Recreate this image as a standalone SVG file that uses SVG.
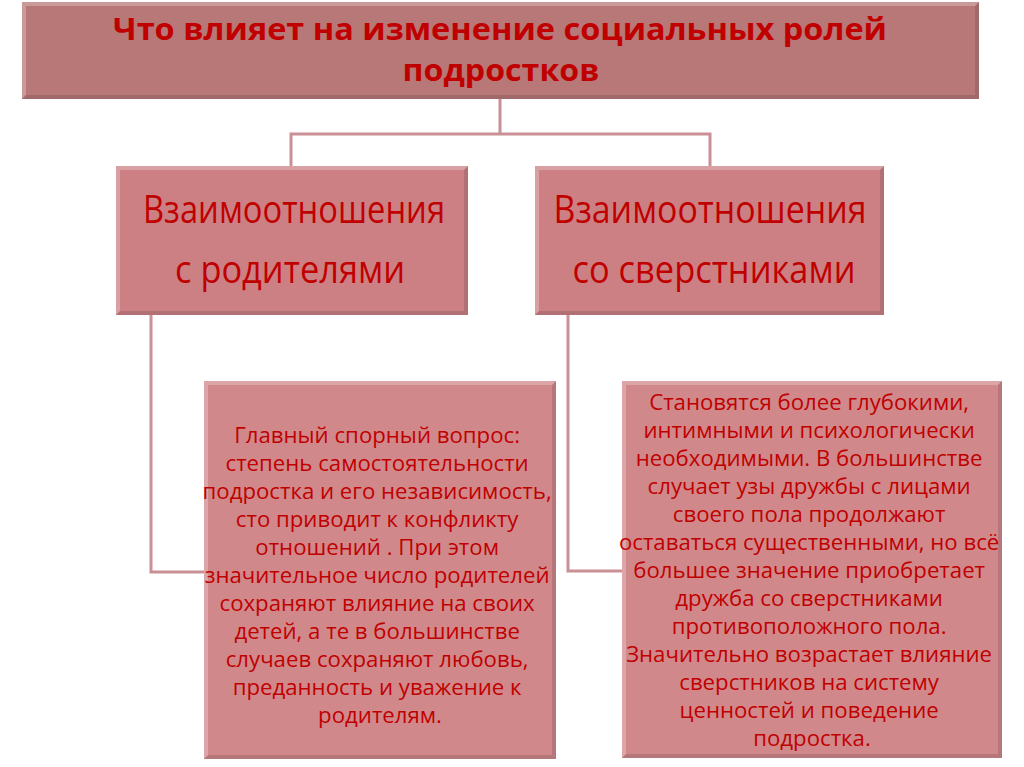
<svg xmlns="http://www.w3.org/2000/svg" width="1024" height="767" viewBox="0 0 1024 767">
<style>
.t{font-family:"Open Sans","Liberation Sans",Arial,sans-serif;fill:#c00000;text-anchor:middle}
.title{font-size:30px;font-weight:bold}
.mid{font-size:38px}
.body{font-family:"Open Sans","Liberation Sans",sans-serif;font-size:22.2px;fill:#c00000;text-anchor:middle}
.conn{fill:none;stroke:#c99096;stroke-width:3}
.hl{fill:#ffffff;opacity:0.25}
.sh{fill:#000000;opacity:0.12}
</style>
<rect width="1024" height="767" fill="#ffffff"/>
<g id="connectors">
<path class="conn" d="M500 99V134H291V166M500 134H710V166"/>
<path class="conn" d="M151 315V572H206"/>
<path class="conn" d="M568 315V571H623"/>
</g>
<g id="title">
<rect x="22" y="2" width="957" height="97" fill="#b87878"/>
<polygon class="hl" points="22,2 979,2 975,6 26,6"/>
<polygon class="hl" points="22,2 26,6 26,95 22,99"/>
<polygon class="sh" points="22,99 979,99 975,95 26,95"/>
<polygon class="sh" points="979,2 979,99 975,95 975,6"/>
<text class="t title" x="500" y="40" textLength="774" lengthAdjust="spacingAndGlyphs">Что влияет на изменение социальных ролей</text>
<text class="t title" x="501" y="81" textLength="197" lengthAdjust="spacingAndGlyphs">подростков</text>
</g>
<g id="parents">
<rect x="116" y="166" width="352" height="149" fill="#cc8084"/>
<polygon class="hl" points="116,166 468,166 464,170 120,170"/>
<polygon class="hl" points="116,166 120,170 120,311 116,315"/>
<polygon class="sh" points="116,315 468,315 464,311 120,311"/>
<polygon class="sh" points="468,166 468,315 464,311 464,170"/>
<text class="t mid" x="294" y="223" textLength="302" lengthAdjust="spacingAndGlyphs">Взаимоотношения</text>
<text class="t mid" x="290" y="283" textLength="230" lengthAdjust="spacingAndGlyphs">с родителями</text>
</g>
<g id="peers">
<rect x="535" y="166" width="349" height="149" fill="#cc8084"/>
<polygon class="hl" points="535,166 884,166 880,170 539,170"/>
<polygon class="hl" points="535,166 539,170 539,311 535,315"/>
<polygon class="sh" points="535,315 884,315 880,311 539,311"/>
<polygon class="sh" points="884,166 884,315 880,311 880,170"/>
<text class="t mid" x="710" y="223" textLength="313" lengthAdjust="spacingAndGlyphs">Взаимоотношения</text>
<text class="t mid" x="714" y="283" textLength="283" lengthAdjust="spacingAndGlyphs">со сверстниками</text>
</g>
<g id="parents-detail">
<rect x="204" y="381" width="352" height="378" fill="#d0888b"/>
<polygon class="hl" points="204,381 556,381 552,385 208,385"/>
<polygon class="hl" points="204,381 208,385 208,755 204,759"/>
<polygon class="sh" points="204,759 556,759 552,755 208,755"/>
<polygon class="sh" points="556,381 556,759 552,755 552,385"/>
<text class="body" x="380">
<tspan x="380" y="443">Главный спорный вопрос:</tspan>
<tspan x="380" y="471">степень самостоятельности</tspan>
<tspan x="380" y="499">подростка и его независимость,</tspan>
<tspan x="380" y="527">сто приводит к конфликту</tspan>
<tspan x="380" y="555">отношений . При этом</tspan>
<tspan x="380" y="583">значительное число родителей</tspan>
<tspan x="380" y="611">сохраняют влияние на своих</tspan>
<tspan x="380" y="639">детей, а те в большинстве</tspan>
<tspan x="380" y="667">случаев сохраняют любовь,</tspan>
<tspan x="380" y="695">преданность и уважение к</tspan>
<tspan x="380" y="723">родителям.</tspan>
</text>
</g>
<g id="peers-detail">
<rect x="622" y="381" width="380" height="377" fill="#d0888b"/>
<polygon class="hl" points="622,381 1002,381 998,385 626,385"/>
<polygon class="hl" points="622,381 626,385 626,754 622,758"/>
<polygon class="sh" points="622,758 1002,758 998,754 626,754"/>
<polygon class="sh" points="1002,381 1002,758 998,754 998,385"/>
<text class="body" x="812">
<tspan x="812" y="410">Становятся более глубокими,</tspan>
<tspan x="812" y="438">интимными и психологически</tspan>
<tspan x="812" y="466">необходимыми. В большинстве</tspan>
<tspan x="812" y="494">случает узы дружбы с лицами</tspan>
<tspan x="812" y="522">своего пола продолжают</tspan>
<tspan x="812" y="550">оставаться существенными, но всё</tspan>
<tspan x="812" y="578">большее значение приобретает</tspan>
<tspan x="812" y="606">дружба со сверстниками</tspan>
<tspan x="812" y="634">противоположного пола.</tspan>
<tspan x="812" y="662">Значительно возрастает влияние</tspan>
<tspan x="812" y="690">сверстников на систему</tspan>
<tspan x="812" y="718">ценностей и поведение</tspan>
<tspan x="812" y="746">подростка.</tspan>
</text>
</g>
</svg>
